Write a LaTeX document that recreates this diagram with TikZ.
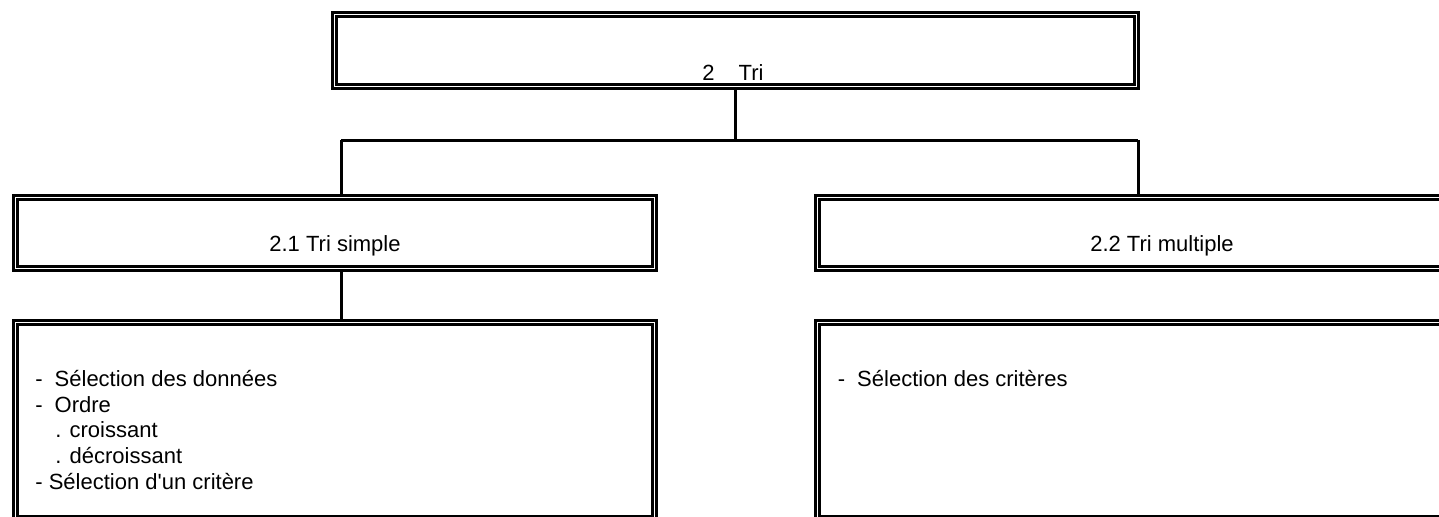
\documentclass[tikz,border=0pt]{standalone}
\usepackage{fontspec}
\setmainfont{Liberation Sans}
\begin{document}
\begin{tikzpicture}[x=0.5pt,y=-0.5pt,
  box/.style={draw,double,line width=1.5pt,double distance=0.5pt,inner sep=0pt,outer sep=1.75pt},
  conn/.style={line width=1.5pt},
  txt/.style={font=\fontsize{11}{13}\selectfont,inner sep=0pt},
  item/.style={txt,anchor=base west}]
\useasboundingbox (0,0) rectangle (1439,516);
\clip (0,0) rectangle (1439,516);
% boxes
\node[box,minimum width=400.75pt,minimum height=36pt] (tri) at (735.25,50.5) {};
\node[box,minimum width=319.75pt,minimum height=35.5pt] (simple) at (334.75,232.5) {};
\node[box,minimum width=344.5pt,minimum height=35.5pt] (multi) at (1162,232.5) {};
\node[box,minimum width=319.75pt,minimum height=98pt] (simplelist) at (334.75,420) {};
\node[box,minimum width=344.5pt,minimum height=98pt] (multilist) at (1162,420) {};
% titles
\node[txt] (tri-t) at (733,73) {2\hspace{12pt}Tri};
\node[txt] (simple-t) at (335,246) {2.1 Tri simple};
\node[txt] (multi-t) at (1162,246) {2.2 Tri multiple};
% lists
\node[item] (s1) at (35,386) {-\hspace{6pt}Sélection des données};
\node[item] (s2) at (35,412) {-\hspace{6pt}Ordre};
\node[item] (s3) at (55,437.5) {. croissant};
\node[item] (s4) at (55,463) {. décroissant};
\node[item] (s5) at (35,489) {- Sélection d\textquotesingle un critère};
\node[item] (m1) at (837.5,386) {-\hspace{6pt}Sélection des critères};
% connectors
\coordinate (jl) at (341,140);
\coordinate (jr) at (1138,140);
\draw[conn] (tri.south) -- (tri.south |- jl);
\draw[conn] (jl) -- (jr);
\draw[conn] (jl) -- (jl |- simple.north);
\draw[conn] (jr) -- (jr |- multi.north);
\draw[conn] (jl |- simple.south) -- (jl |- simplelist.north);
\end{tikzpicture}
\end{document}
